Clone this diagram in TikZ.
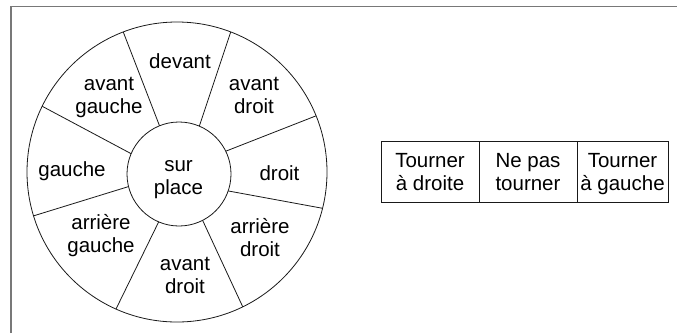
\documentclass[tikz,border=0pt]{standalone}
\usepackage{fontspec}
\setmainfont{Liberation Sans}
\usepackage{tikz}
\usetikzlibrary{positioning}
\definecolor{CadreGris}{RGB}{120, 120, 120}
\definecolor{TraitNoir}{RGB}{25, 25, 25}

\begin{document}
\begin{tikzpicture}[x=1pt, y=-1pt,
    lbl/.style={align=center, inner sep=0pt, font=\fontsize{20.5}{23}\selectfont},
    disque/.style={circle, draw=TraitNoir, line width=0.8pt, inner sep=0pt, outer sep=0pt},
    case/.style={draw=TraitNoir, line width=0.8pt, align=center, inner sep=0pt, outer sep=0pt,
        minimum height=61pt, text depth=0pt, font=\fontsize{20.5}{23}\selectfont}]
    \useasboundingbox (0,0) rectangle (677,333);

    % Cadre
    \draw[CadreGris, line width=1.4pt] (11,333) -- (11,6.7) -- (677,6.7);

    % Roue des directions
    \node[disque, minimum size=300pt] (roue) at (177,172) {};
    \node[disque, minimum size=104pt] (centre) at (179,174) {};
    \foreach \a/\b in {111/112, 69/67, 154/157, 22/26, 197/194, 346/341, 246/247, 296/297}
        \draw[TraitNoir, line width=0.8pt] (centre.\b) -- (roue.\a);

    % Secteurs
    \node[lbl] (lDevant) at (180,61) {devant};
    \node[lbl] (lAvantG) at (109,97) {avant\\gauche};
    \node[lbl] (lAvantD) at (254,95) {avant\\droit};
    \node[lbl] (lGauche) at (72,171.3) {gauche};
    \node[lbl] (lDroit) at (279.5,173.2) {droit};
    \node[lbl] (lSurPlace) at (178.5,180) {sur\\place};
    \node[lbl] (lArrG) at (101,235.8) {arrière\\gauche};
    \node[lbl] (lArrD) at (260,238) {arrière\\droit};
    \node[lbl] (lAvantBas) at (185,275.4) {avant\\droit};

    % Tableau
    \node[case, minimum width=98pt] (cDroite) at (430,171.5) {Tourner\\à droite};
    \node[case, minimum width=98pt, right=0pt of cDroite] (cNePas) {Ne pas\\tourner};
    \node[case, minimum width=91pt, right=0pt of cNePas] (cGauche) {Tourner\\à gauche};
\end{tikzpicture}
\end{document}
